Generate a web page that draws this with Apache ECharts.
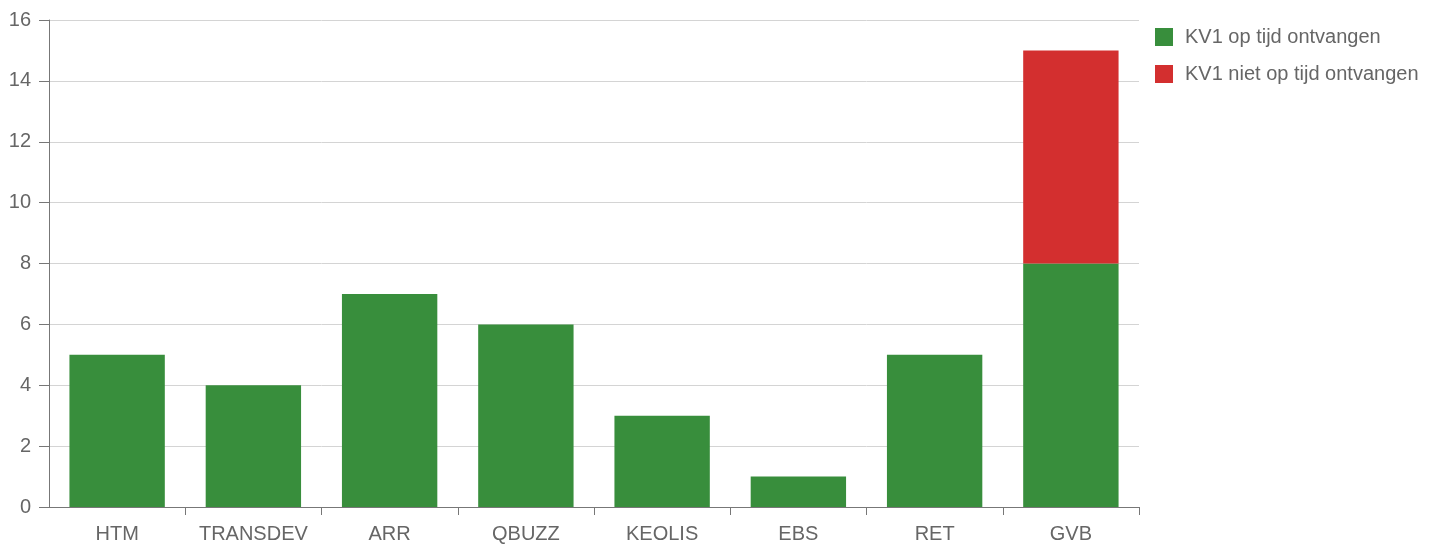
<!DOCTYPE html>
<html>
<head>
<meta charset="utf-8">
<script src="https://cdn.jsdelivr.net/npm/echarts@6/dist/echarts.min.js"></script>
<style>
	html, body { margin: 0; padding: 0; background: #fff; }
	#chart { width: 1443px; height: 544px; }
</style>
</head>
<body>
<div id="chart"></div>
<script>
var categories = ['HTM', 'TRANSDEV', 'ARR', 'QBUZZ', 'KEOLIS', 'EBS', 'RET', 'GVB'];
var opTijd = [5, 4, 7, 6, 3, 1, 5, 8];
var nietOpTijd = [0, 0, 0, 0, 0, 0, 0, 7];
var seriesNames = ['KV1 op tijd ontvangen', 'KV1 niet op tijd ontvangen'];

var myChart = echarts.init(document.getElementById('chart'));
myChart.setOption({
	animation: false,
	textStyle: { fontFamily: 'Liberation Sans, Arial, sans-serif' },
	color: ['#388E3C', '#D32F2F'],
	grid: { left: 49, right: 304, top: 20, bottom: 37, containLabel: false },
	legend: {
		orient: 'vertical',
		left: 1150,
		top: 22,
		itemWidth: 18,
		itemHeight: 18,
		itemGap: 17,
		icon: 'rect',
		data: seriesNames,
		textStyle: { color: '#666', fontSize: 20, padding: [0, 0, 0, 7] }
	},
	xAxis: {
		type: 'category',
		data: categories,
		axisLine: { lineStyle: { color: '#777' } },
		axisTick: {
			show: true,
			length: 8,
			interval: function (i) { return i !== 0; },
			lineStyle: { color: '#777' }
		},
		axisLabel: { color: '#666', fontSize: 20, margin: 17, interval: 0 }
	},
	yAxis: {
		type: 'value',
		min: 0,
		max: 16,
		interval: 2,
		axisLine: { show: true, lineStyle: { color: '#777' } },
		axisTick: { show: true, length: 10, lineStyle: { color: '#777' } },
		axisLabel: { color: '#666', fontSize: 20, margin: 18 },
		splitLine: { lineStyle: { color: '#d4d4d4' } }
	},
	series: [{
		name: seriesNames[0],
		type: 'bar',
		stack: 'kv1',
		barCategoryGap: '30%',
		data: opTijd
	}, {
		name: seriesNames[1],
		type: 'bar',
		stack: 'kv1',
		barCategoryGap: '30%',
		data: nietOpTijd
	}]
});
</script>
</body>
</html>
